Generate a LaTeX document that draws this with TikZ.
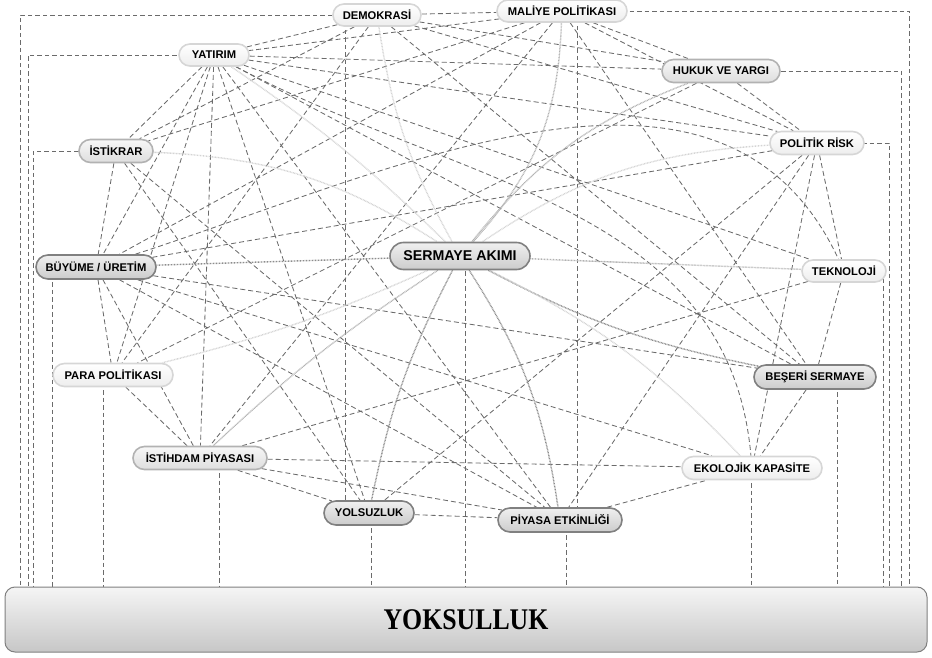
\documentclass[tikz,border=0pt]{standalone}
\usepackage{fontspec}
\setmainfont{Liberation Serif}
\newfontfamily\nodefont{Liberation Sans}
\usetikzlibrary{shapes.misc,backgrounds}
\begin{document}
\begin{tikzpicture}[x=1pt,y=-1pt,
  nd/.style={rounded rectangle, inner sep=0pt, line width=1.6pt, font=\nodefont\bfseries\fontsize{11.2}{13}\selectfont, text=black},
  lt/.style={nd, draw=black!16, top color=white, bottom color=black!7},
  mid/.style={nd, draw=black!30, top color=black!3, bottom color=black!13},
  dk/.style={nd, draw=black!50, top color=black!6, bottom color=black!20},
  dl/.style={draw=black!58, line width=0.85pt, dash pattern=on 5pt off 3pt},
  fl/.style={draw=black!58, line width=0.65pt, dash pattern=on 4.5pt off 3pt},
  dotd/.style={draw=black!45, line width=1.4pt, dash pattern=on 0.8pt off 0.7pt},
  dotm/.style={draw=black!30, line width=1.4pt, dash pattern=on 0.8pt off 0.7pt},
  dotl/.style={draw=black!17, line width=1.4pt, dash pattern=on 0.8pt off 0.7pt},
]
\useasboundingbox (0,0) rectangle (932,658);

\node[lt, minimum width=88, minimum height=22] (dem) at (377,15) {DEMOKRASİ};
\node[lt, minimum width=130, minimum height=22] (mal) at (562,11) {MALİYE POLİTİKASI};
\node[lt, minimum width=70, minimum height=22] (yat) at (214,55) {YATIRIM};
\node[mid, minimum width=118, minimum height=23] (huk) at (721,71) {HUKUK VE YARGI};
\node[mid, minimum width=74, minimum height=23] (ist) at (116,151) {İSTİKRAR};
\node[lt, minimum width=94, minimum height=23] (pol) at (817,143) {POLİTİK RİSK};
\node[dk, minimum width=120, minimum height=24] (buy) at (96,267) {BÜYÜME / ÜRETİM};
\node[dk, minimum width=140, minimum height=27, font=\nodefont\bfseries\fontsize{14.2}{16}\selectfont] (ser) at (460,256) {SERMAYE AKIMI};
\node[lt, minimum width=84, minimum height=22] (tek) at (844,271) {TEKNOLOJİ};
\node[lt, minimum width=120, minimum height=23] (par) at (113,375) {PARA POLİTİKASI};
\node[dk, minimum width=122, minimum height=24] (bes) at (815,377) {BEŞERİ SERMAYE};
\node[mid, minimum width=134, minimum height=23] (isd) at (200,458) {İSTİHDAM PİYASASI};
\node[lt, minimum width=140, minimum height=23] (eko) at (752,468) {EKOLOJİK KAPASİTE};
\node[dk, minimum width=90, minimum height=24] (yol) at (369,513) {YOLSUZLUK};
\node[dk, minimum width=124, minimum height=24] (piy) at (560,520) {PİYASA ETKİNLİĞİ};
\node[rectangle, rounded corners=10pt, draw=black!50, line width=1pt, top color=black!4, bottom color=black!22,
      minimum width=922, minimum height=65, inner sep=0pt, font=\fontsize{30}{32}\selectfont] (yok) at (466,619.5) {\scalebox{0.86}[1]{\bfseries YOKSULLUK}};

\foreach \x in {20,28,33,52,103,219,345,371,465,566,577,751,837,883,889,901,909}
  \coordinate (c\x) at (\x,0);

\begin{scope}[on background layer]
% frame lines to YOKSULLUK
\draw[fl] (dem.center) -| (c20 |- yok.north);
\draw[fl] (yat.center) -| (c28 |- yok.north);
\draw[fl] (ist.center) -| (c33 |- yok.north);
\draw[fl] (c52 |- buy.center) -- (c52 |- yok.north);
\draw[fl] (c103 |- par.center) -- (c103 |- yok.north);
\draw[fl] (c219 |- isd.center) -- (c219 |- yok.north);
\draw[fl] (c371 |- yol.center) -- (c371 |- yok.north);
\draw[fl] (c465 |- ser.center) -- (c465 |- yok.north);
\draw[fl] (c566 |- piy.center) -- (c566 |- yok.north);
\draw[fl] (c751 |- eko.center) -- (c751 |- yok.north);
\draw[fl] (c837 |- bes.center) -- (c837 |- yok.north);
\draw[fl] (c883 |- tek.center) -- (c883 |- yok.north);
\draw[fl] (pol.center) -| (c889 |- yok.north);
\draw[fl] (huk.center) -| (c901 |- yok.north);
\draw[fl] (mal.center) -| (c909 |- yok.north);
\draw[fl] (c345 |- dem.center) -- (c345 |- yol.center);
\draw[fl] (c577 |- mal.center) -- (c577 |- piy.center);

% dashed mesh
\draw[dl] (dem)--(mal) (dem)--(yat) (dem)--(ist) (dem)--(huk) (dem)--(pol) (dem)--(bes) (dem)--(par)
  (mal)--(yat) (mal)--(ist) (mal)--(buy) (mal)--(isd) (mal)--(huk) (mal)--(pol) (mal)--(bes)
  (yat)--(huk) (yat)--(pol) (yat)--(tek) (yat)--(bes) (yat)--(piy) (yat)--(yol) (yat)--(isd) (yat)--(par) (yat)--(ist) (yat)--(buy)
  (ist)--(buy) (ist)--(yol) (ist)--(piy)
  (buy)--(pol) (buy)--(bes) (buy)--(eko) (buy)--(piy) (buy)--(isd) (buy)--(par)
  (huk)--(pol) (huk)--(par)
  (pol)--(piy) (pol)--(eko) (pol)--(tek) (pol)--(yol)
  (tek)--(isd) (tek)--(bes)
  (bes)--(eko)
  (isd)--(eko) (isd)--(piy) (isd)--(yol) (isd)--(par)
  (yol)--(piy) (piy)--(eko);
\draw[dl] (yat) to[out=-28,in=95] (eko);
\draw[dl] (buy) to[out=18,in=115] (tek);

% dotted links of SERMAYE AKIMI
\draw[dotd] (ser) -- (buy);
\draw[dotl] (ist) to[bend left=15] (ser);
\draw[dotl] (yat) to[bend left=5] (ser);
\draw[dotl] (dem) to[bend right=10] (ser);
\draw[dotm] (mal) to[bend left=20] (ser);
\draw[dotm] (huk) to[bend right=15] (ser);
\draw[dotl] (pol) to[bend right=15] (ser);
\draw[dotm] (ser) -- (tek);
\draw[dotd] (ser) to[bend right=8] (bes);
\draw[dotl] (ser) to[bend left=10] (eko);
\draw[dotd] (ser) to[bend left=12] (piy);
\draw[dotd] (ser) to[bend right=8] (yol);
\draw[dotm] (ser) to[bend right=5] (isd);
\draw[dotl] (ser) to[bend left=5] (par);
\end{scope}
\end{tikzpicture}
\end{document}
